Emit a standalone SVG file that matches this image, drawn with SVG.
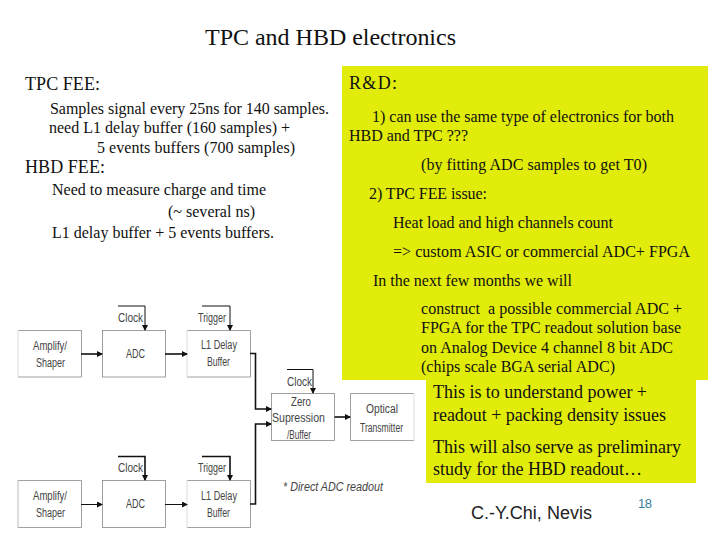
<svg xmlns="http://www.w3.org/2000/svg" width="720" height="540" viewBox="0 0 720 540">
<style>
.s{font-family:"Liberation Serif","Times New Roman",serif;fill:#111}
.f16{font-size:16px}.f18{font-size:18px}
.d{font-family:"Liberation Sans",Arial,sans-serif;font-size:12.5px;fill:#444}
.b{fill:#fff;stroke:#888;stroke-width:.8}
.o{fill:none;stroke:#888;stroke-width:.8}
.e{fill:#fff}
.c{fill:none;stroke:#111;stroke-width:1}
.t{fill:none;stroke:#111;stroke-width:1.6}
</style>
<defs>
<marker id="a" markerWidth="7" markerHeight="7" refX="5" refY="3" orient="auto" markerUnits="userSpaceOnUse"><path d="M0 0L6 3L0 6Z" fill="#111"/></marker>
</defs>
<rect width="720" height="540" fill="#fff"/>
<rect x="342" y="66" width="366" height="314" fill="#e2ec0a"/>
<rect x="426" y="380" width="270" height="103" fill="#e2ec0a"/>
<g id="title"><text class="s" x="205" y="45" font-size="24" textLength="251">TPC and HBD electronics</text></g>
<g id="left-text">
<text class="s f18" x="25" y="90" textLength="75">TPC FEE:</text>
<text class="s f16" x="50" y="114" textLength="279">Samples signal every 25ns for 140 samples.</text>
<text class="s f16" x="49" y="133" textLength="241">need L1 delay buffer (160 samples) +</text>
<text class="s f16" x="97" y="153" textLength="198">5 events buffers (700 samples)</text>
<text class="s f18" x="25" y="173" textLength="80">HBD FEE:</text>
<text class="s f16" x="52" y="195" textLength="214">Need to measure charge and time</text>
<text class="s f16" x="168" y="217" textLength="87">(~ several ns)</text>
<text class="s f16" x="52" y="238" textLength="222">L1 delay buffer + 5 events buffers.</text>
</g>
<g id="rd-text">
<text class="s f18" x="349" y="89" textLength="48">R&amp;D:</text>
<text class="s f16" x="372" y="122" textLength="302">1) can use the same type of electronics for both</text>
<text class="s f16" x="349" y="141" textLength="119">HBD and TPC ???</text>
<text class="s f16" x="421" y="170" textLength="226">(by fitting ADC samples to get T0)</text>
<text class="s f16" x="369" y="199" textLength="118">2) TPC FEE issue:</text>
<text class="s f16" x="393" y="228" textLength="220">Heat load and high channels count</text>
<text class="s f16" x="393" y="257" textLength="297">=&gt; custom ASIC or commercial ADC+ FPGA</text>
<text class="s f16" x="373" y="286" textLength="199">In the next few months we will</text>
<text class="s f16" x="421" y="314" textLength="261" xml:space="preserve">construct  a possible commercial ADC +</text>
<text class="s f16" x="421" y="333" textLength="260">FPGA for the TPC readout solution base</text>
<text class="s f16" x="421" y="353" textLength="252">on Analog Device 4 channel 8 bit ADC</text>
<text class="s f16" x="421" y="372" textLength="194">(chips scale BGA serial ADC)</text>
<text class="s f18" x="433" y="398" textLength="214">This is to understand power +</text>
<text class="s f18" x="433" y="421" textLength="233">readout + packing density issues</text>
<text class="s f18" x="433" y="453" textLength="248">This will also serve as preliminary</text>
<text class="s f18" x="433" y="475" textLength="209">study for the HBD readout…</text>
</g>
<g id="amp1"><rect class="e" x="18" y="330" width="63" height="47"/><path class="o" d="M18 330.500H81.500V377H18"/><path d="M18 330V377" stroke="#ddd" fill="none"/><text class="d" x="33" y="350" textLength="34" lengthAdjust="spacingAndGlyphs">Amplify/</text><text class="d" x="36" y="367" textLength="29" lengthAdjust="spacingAndGlyphs">Shaper</text></g>
<g id="adc1"><rect class="b" x="102.500" y="330.500" width="63" height="46.500"/><text class="d" x="126" y="358" textLength="19" lengthAdjust="spacingAndGlyphs">ADC</text></g>
<g id="l1-1"><rect class="e" x="187" y="330" width="63" height="47"/><path class="o" d="M187 330.500H250.500V377H187"/><path d="M187 330V377" stroke="#ddd" fill="none"/><text class="d" x="201" y="349" textLength="36" lengthAdjust="spacingAndGlyphs">L1 Delay</text><text class="d" x="207" y="366" textLength="23" lengthAdjust="spacingAndGlyphs">Buffer</text></g>
<g id="zero"><rect class="b" x="271.500" y="393.500" width="63" height="47"/><text class="d" x="291" y="406" textLength="20" lengthAdjust="spacingAndGlyphs">Zero</text><text class="d" x="272" y="422" textLength="53" lengthAdjust="spacingAndGlyphs">Supression</text><text class="d" x="287" y="439" textLength="24" lengthAdjust="spacingAndGlyphs">/Buffer</text></g>
<g id="optical"><rect class="e" x="350" y="393" width="64" height="48"/><path class="o" d="M414 393.500H350.500V440.500H414"/><path d="M414 393V441" stroke="#ddd" fill="none"/><text class="d" x="366" y="413" textLength="32" lengthAdjust="spacingAndGlyphs">Optical</text><text class="d" x="360" y="432" textLength="43" lengthAdjust="spacingAndGlyphs">Transmitter</text></g>
<g id="amp2"><rect class="e" x="18" y="480" width="63" height="48"/><path class="o" d="M18 480.500H81.500V527.500H18"/><path d="M18 480V528" stroke="#bbb" fill="none"/><text class="d" x="33" y="500" textLength="34" lengthAdjust="spacingAndGlyphs">Amplify/</text><text class="d" x="36" y="517" textLength="29" lengthAdjust="spacingAndGlyphs">Shaper</text></g>
<g id="adc2"><rect class="b" x="102.500" y="480.500" width="63" height="47"/><text class="d" x="126" y="508" textLength="19" lengthAdjust="spacingAndGlyphs">ADC</text></g>
<g id="l1-2"><rect class="e" x="187" y="480" width="63" height="48"/><path class="o" d="M187 480.500H250.500V527.500H187"/><path d="M187 480V528" stroke="#ddd" fill="none"/><text class="d" x="201" y="500" textLength="36" lengthAdjust="spacingAndGlyphs">L1 Delay</text><text class="d" x="207" y="517" textLength="23" lengthAdjust="spacingAndGlyphs">Buffer</text></g>
<g id="connectors">
<path class="t" d="M81 354H102" marker-end="url(#a)"/>
<path class="t" d="M165 354H187" marker-end="url(#a)"/>
<path class="t" d="M250 353.500H255.500V409H271" marker-end="url(#a)"/>
<path class="t" d="M334.500 417H350" marker-end="url(#a)"/>
<path class="c" d="M81 504.500H102" marker-end="url(#a)"/>
<path class="c" d="M165 504.500H187" marker-end="url(#a)"/>
<path class="t" d="M250 504H255.500V424H271" marker-end="url(#a)"/>
<path class="c" d="M118 306H145V330" marker-end="url(#a)"/>
<path class="c" d="M202 306H230V330" marker-end="url(#a)"/>
<path class="c" d="M287 369.500H313V393" marker-end="url(#a)"/>
<path class="t" d="M118 456.500H145V480" marker-end="url(#a)"/>
<path class="t" d="M202 456.500H230V480" marker-end="url(#a)"/>
</g>
<g id="labels">
<text class="d" x="118" y="322" textLength="25" lengthAdjust="spacingAndGlyphs">Clock</text>
<text class="d" x="198" y="322" textLength="28" lengthAdjust="spacingAndGlyphs">Trigger</text>
<text class="d" x="287" y="386" textLength="25" lengthAdjust="spacingAndGlyphs">Clock</text>
<text class="d" x="118" y="472" textLength="25" lengthAdjust="spacingAndGlyphs">Clock</text>
<text class="d" x="198" y="472" textLength="28" lengthAdjust="spacingAndGlyphs">Trigger</text>
<text class="d" x="283" y="491" font-style="italic" textLength="100" lengthAdjust="spacingAndGlyphs">* Direct ADC readout</text>
</g>
<g id="footer">
<text x="471" y="519" font-family="'Liberation Sans',Arial,sans-serif" font-size="18px" textLength="121" fill="#222">C.-Y.Chi, Nevis</text>
<text x="638" y="508" font-family="'Liberation Sans',Arial,sans-serif" font-size="13px" textLength="14" fill="#3a7f9f">18</text>
</g>
</svg>
